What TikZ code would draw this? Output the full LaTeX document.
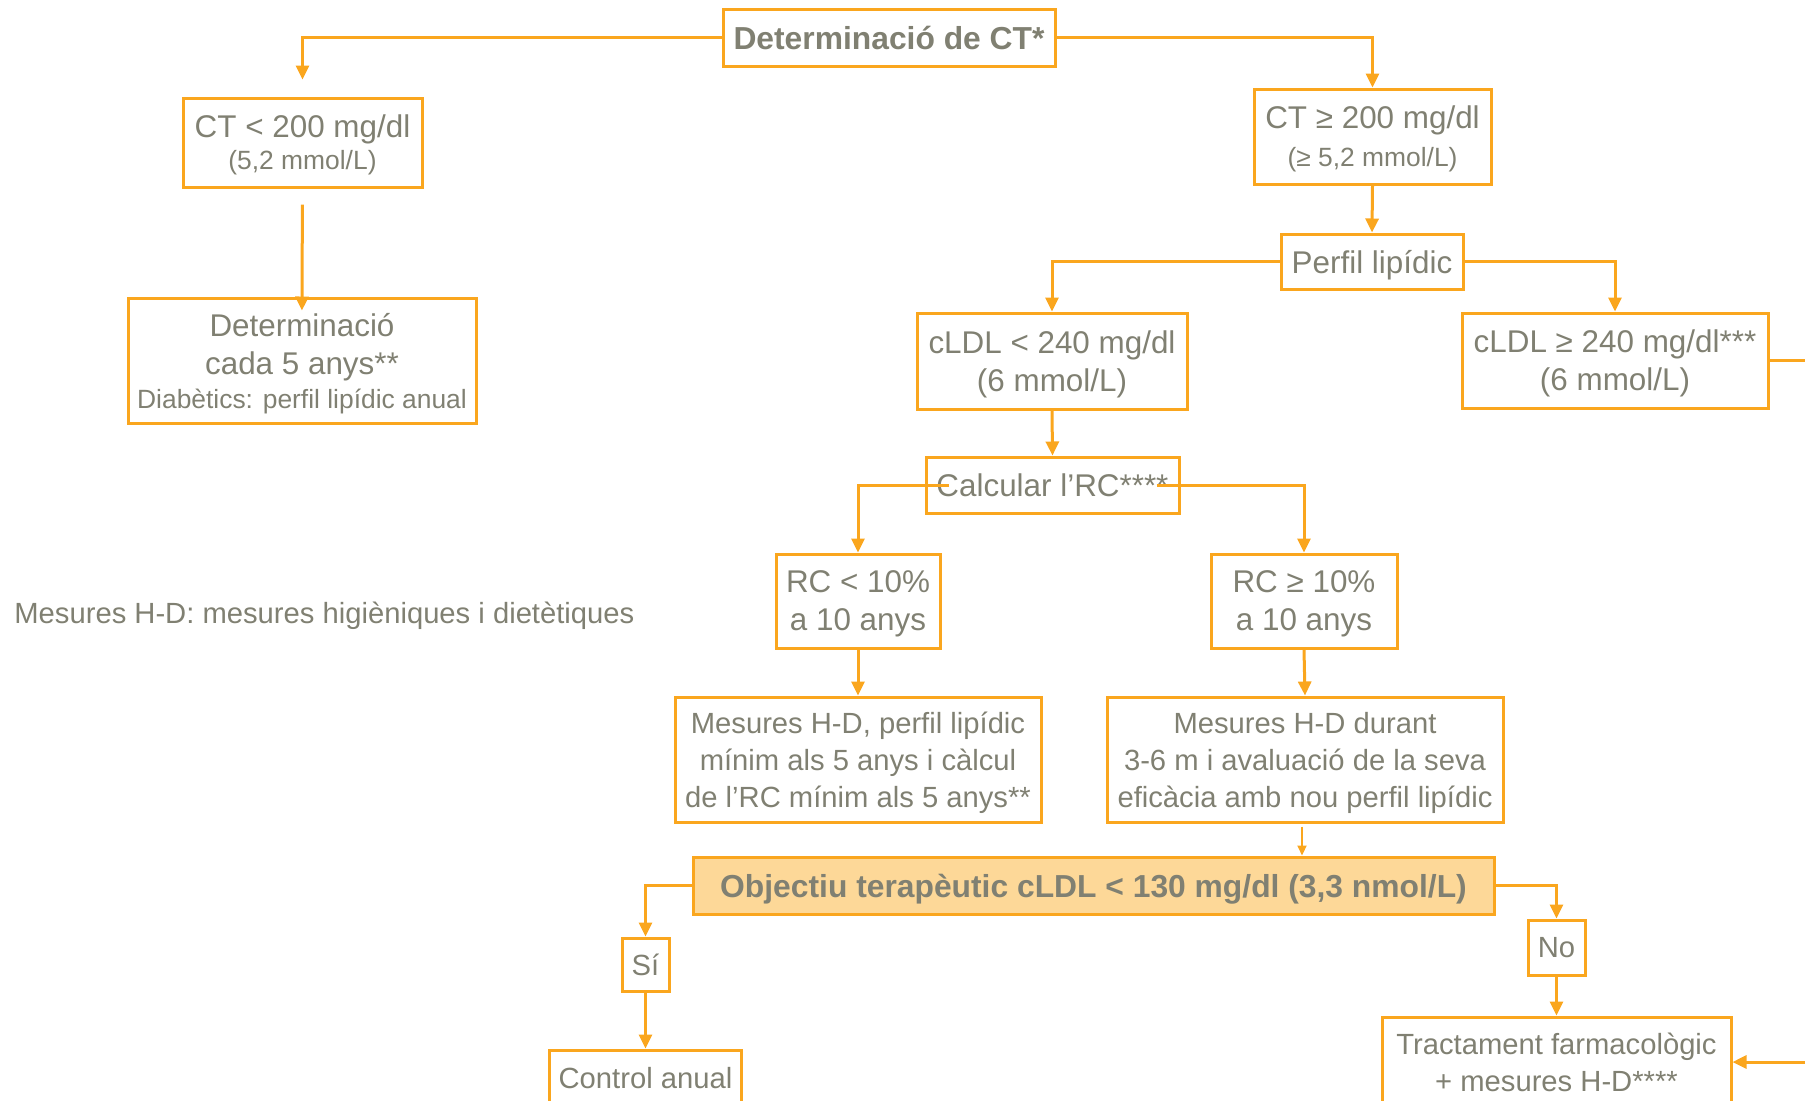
\documentclass[tikz,border=0pt]{standalone}
\usepackage{fontspec}
\setmainfont{Liberation Sans}
\usetikzlibrary{arrows.meta}
\definecolor{lineor}{RGB}{250,166,30}
\definecolor{fillor}{RGB}{253,216,152}
\definecolor{txtgr}{RGB}{128,128,114}
\newcommand\fmain{\fontsize{15.7}{19}\selectfont}
\newcommand\fsub{\fontsize{13.2}{15.5}\selectfont}
\newcommand\fbot{\fontsize{14.6}{18.5}\selectfont}
\newcommand\fbold{\fontsize{15.9}{19}\selectfont\bfseries}
\newcommand\flowbox[6]{\node(#1)[box,minimum width=#3,minimum height=#4,#5] at #2 {#6};}
\tikzset{
  box/.style={draw=lineor,line width=1.5pt,text=txtgr,align=center,inner sep=0pt,text depth=0pt,font=\fmain},
  link/.style={draw=lineor,line width=1.5pt,-{Triangle[length=7pt,width=6.5pt]}},
  thinlink/.style={draw=lineor,line width=1pt,-{Triangle[length=5pt,width=4.5pt]}},
  plain/.style={draw=lineor,line width=1.5pt},
}

\begin{document}
\begin{tikzpicture}[x=0.5pt,y=-0.5pt]
    \useasboundingbox (0,0) rectangle (1805,1100);
    \clip (0,0) rectangle (1805,1100);
    \flowbox{ct}{(889,37.5)}{166pt}{28.5pt}{font=\fbold}{Determinació de CT*}
    \flowbox{ctlo}{(302.5,142.5)}{119.5pt}{44.5pt}{}{CT < 200 mg/dl\\[-3pt]{\fsub (5,2 mmol/L)}}
    \flowbox{det}{(302,360.5)}{174pt}{62.5pt}{}{Determinació\\cada 5 anys**\\[-2pt]{\fsub Diabètics: perfil lipídic anual}}
    \flowbox{cthi}{(1372.5,136.5)}{118.5pt}{47.5pt}{}{CT ≥ 200 mg/dl\\{\fsub (≥ 5,2 mmol/L)}}
    \flowbox{pl}{(1372,261.5)}{91pt}{27.5pt}{}{Perfil lipídic}
    \flowbox{ldlo}{(1052,361)}{135pt}{48pt}{}{cLDL < 240 mg/dl\\(6 mmol/L)}
    \flowbox{ldhi}{(1615,360.5)}{153pt}{47.5pt}{}{cLDL ≥ 240 mg/dl***\\(6 mmol/L)}
    \flowbox{rc}{(1052.5,485)}{126.5pt}{28pt}{}{Calcular l’RC****}
    \flowbox{rclo}{(858,601)}{82pt}{47pt}{}{RC < 10\%\\a 10 anys}
    \flowbox{rchi}{(1304,601)}{93pt}{47pt}{}{RC ≥ 10\%\\a 10 anys}
    \flowbox{hdlo}{(858,759.5)}{183pt}{62.5pt}{font=\fbot}{Mesures H-D, perfil lipídic\\mínim als 5 anys i càlcul\\de l’RC mínim als 5 anys**}
    \flowbox{hdhi}{(1305,759.5)}{198pt}{62.5pt}{font=\fbot}{Mesures H-D durant\\3-6 m i avaluació de la seva\\eficàcia amb nou perfil lipídic}
    \flowbox{obj}{(1093.5,885.5)}{400.5pt}{28.5pt}{fill=fillor,font=\fbold}{Objectiu terapèutic cLDL < 130 mg/dl (3,3 nmol/L)}
    \flowbox{si}{(645.5,964.5)}{23.5pt}{26.5pt}{font=\fbot}{Sí}
    \flowbox{no}{(1556.5,947.5)}{28.5pt}{27.5pt}{font=\fbot}{No}
    \flowbox{ctrl}{(645.5,1077.5)}{96pt}{27.5pt}{font=\fbot}{Control anual}
    \flowbox{trt}{(1556.5,1062)}{174.5pt}{45pt}{font=\fbot}{Tractament farmacològic\\+ mesures H-D****}
    \node(hd)[anchor=west,inner sep=0pt,text=txtgr,font=\fbot] at (14,616) {Mesures H-D: mesures higièniques i dietètiques};
    \coordinate(ex1) at (1805,360.5);
    \coordinate(ex2) at (1805,1062);

    \draw[link,shorten >=8.5pt] (ct.west) -| (ctlo.north);
    \draw[link] (ct.east) -| (cthi.north);
    \draw[link,shorten <=8pt,shorten >=-7pt] (ctlo.south) -- (det.north);
    \draw[link] (cthi.south) -- (pl.north);
    \draw[link] (pl.west) -| (ldlo.north);
    \draw[link] (pl.east) -| (ldhi.north);
    \draw[plain] (ldhi.east) -- (ex1);
    \draw[link] (ldlo.south) -- (rc.north);
    \draw[link] ([xshift=12pt]rc.west) -| (rclo.north);
    \draw[link] ([xshift=-12pt]rc.east) -| (rchi.north);
    \draw[link] (rclo.south) -- (hdlo.north);
    \draw[link] (rchi.south) -- (hdhi.north);
    \draw[thinlink,shorten <=1.5pt] ([xshift=-1.5pt]hdhi.south) -- ([xshift=-1.5pt]hdhi.south |- obj.north);
    \draw[link] (obj.west) -| (si.north);
    \draw[link] (obj.east) -| (no.north);
    \draw[link] (si.south) -- (ctrl.north);
    \draw[link] (no.south) -- (trt.north);
    \draw[link] (ex2) -- (trt.east);
\end{tikzpicture}
\end{document}
